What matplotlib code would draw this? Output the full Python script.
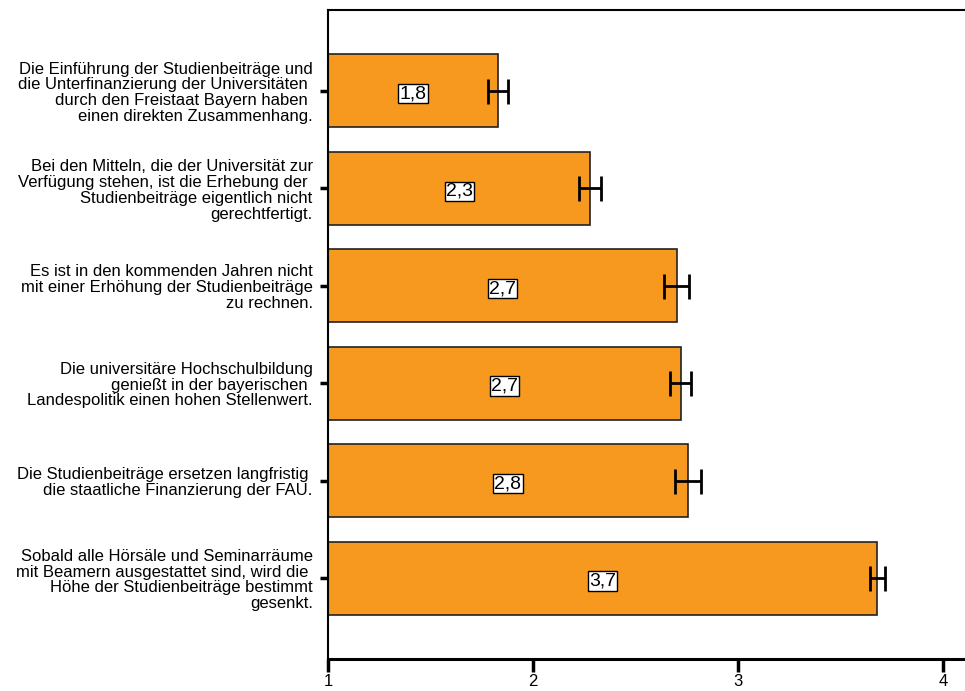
import matplotlib
matplotlib.use('Agg')
from matplotlib import pyplot as plt
import numpy as np

plt.rcParams['font.family'] = ['Liberation Sans', 'DejaVu Sans']

statements = [
    'Die Einführung der Studienbeiträge und\ndie Unterfinanzierung der Universitäten \ndurch den Freistaat Bayern haben \neinen direkten Zusammenhang.',
    'Bei den Mitteln, die der Universität zur\nVerfügung stehen, ist die Erhebung der \nStudienbeiträge eigentlich nicht\ngerechtfertigt.',
    'Es ist in den kommenden Jahren nicht\nmit einer Erhöhung der Studienbeiträge\nzu rechnen.',
    'Die universitäre Hochschulbildung\ngenießt in der bayerischen \nLandespolitik einen hohen Stellenwert.',
    'Die Studienbeiträge ersetzen langfristig \ndie staatliche Finanzierung der FAU.',
    'Sobald alle Hörsäle und Seminarräume\nmit Beamern ausgestattet sind, wird die \nHöhe der Studienbeiträge bestimmt\ngesenkt.',
]
means = [1.83, 2.28, 2.70, 2.72, 2.755, 3.68]
errors = [0.05, 0.054, 0.061, 0.05, 0.063, 0.036]
labels = ['1,8', '2,3', '2,7', '2,7', '2,8', '3,7']

fig = plt.figure(figsize=(9.65, 6.91), dpi=100)
ax = fig.add_axes([328/965, 1-659/691, 1-328/965, (659-10)/691])

y = np.arange(len(statements))
# Balken beginnen bei 1 (Skala 1-4)
ax.barh(y, np.array(means)-1, left=1, height=0.75, color='#F7991F',
        edgecolor='#222222', linewidth=1.2)
ax.errorbar(means, y, xerr=errors, fmt='none', ecolor='black',
            elinewidth=2, capsize=9, capthick=2)

for i in range(len(means)):
    ax.text((1+means[i])/2, y[i]+0.03, labels[i], ha='center', va='center',
            fontsize=14,
            bbox=dict(boxstyle='square,pad=0.06', facecolor='white',
                      edgecolor='black', linewidth=1))

ax.set_ylim(5.83, -0.83)
ax.set_xlim(1, 1+637/205)
ax.set_xticks([1, 2, 3, 4])
ax.set_yticks(y)
ax.set_yticklabels(statements, fontsize=12, linespacing=1.07)

ax.spines['right'].set_visible(False)
for s in ['left', 'top']:
    ax.spines[s].set_linewidth(1.5)
ax.spines['bottom'].set_linewidth(2.2)
ax.tick_params(axis='y', length=6, width=2.5, pad=5)
ax.tick_params(axis='x', length=9, width=2.5, pad=2, labelsize=12)

fig.savefig('out.png', dpi=100)
